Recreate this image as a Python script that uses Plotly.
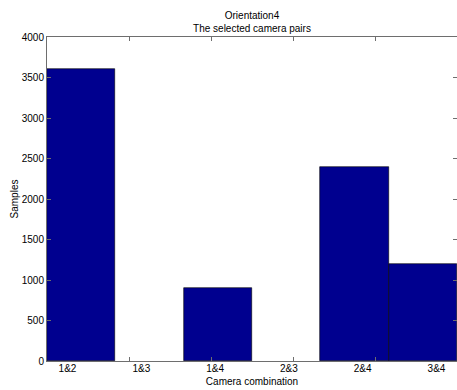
import numpy as np
import plotly.graph_objects as go

# Sample counts per camera pair
categories = ["1&2", "1&3", "1&4", "2&3", "2&4", "3&4"]
samples = [3600, 0, 900, 0, 2400, 1200]

# Label positions along the axis (fraction of axis width) and tick marks
label_pos = list(np.linspace(0.05, 0.95, len(categories)))
tick_marks = [0.2, 0.4, 0.6, 0.8]
y_ticks = list(range(0, 4001, 500))

bar_color = "#00008F"
axis_color = "#6e6e6e"
font = dict(family="Liberation Sans, Arial, sans-serif", size=10, color="#000000")

# empty bins get no outline so the baseline stays the axis colour
edge_widths = [0.6 if v > 0 else 0 for v in samples]

fig = go.Figure()
fig.add_trace(go.Bar(
    x=list(range(len(categories))),
    y=samples,
    width=1.0,
    marker=dict(color=bar_color, line=dict(color="#000000", width=edge_widths)),
    xaxis="x",
    yaxis="y",
    showlegend=False,
))
# invisible traces anchoring the helper axes
fig.add_trace(go.Scatter(x=[0, 1], y=[0, 0], mode="markers", marker=dict(opacity=0),
                         xaxis="x2", yaxis="y", showlegend=False, hoverinfo="skip"))
fig.add_trace(go.Scatter(x=[0, 1], y=[0, 0], mode="markers", marker=dict(opacity=0),
                         xaxis="x3", yaxis="y", showlegend=False, hoverinfo="skip"))

fig.update_layout(
    width=457, height=390,
    margin=dict(l=47, r=0, t=37, b=29),
    paper_bgcolor="white",
    plot_bgcolor="white",
    font=font,
    bargap=0,
    title=dict(
        text="Orientation4<br>The selected camera pairs",
        xref="paper", x=0.5, xanchor="center",
        yref="container", y=1 - 18.5 / 390, yanchor="middle",
        font=dict(family=font["family"], size=10, color="#000000"),
    ),
    xaxis=dict(
        range=[-0.5, len(categories) - 0.5],
        showticklabels=False, ticks="", showgrid=False, zeroline=False,
        showline=True, linecolor=axis_color, linewidth=1, mirror=True,
        fixedrange=True,
    ),
    xaxis2=dict(
        overlaying="x", range=[0, 1], side="bottom",
        tickvals=tick_marks, ticks="inside", ticklen=4, tickcolor=axis_color,
        showticklabels=False, showgrid=False, zeroline=False, showline=False,
        mirror="ticks",
    ),
    xaxis3=dict(
        overlaying="x", range=[0, 1], side="bottom",
        tickvals=label_pos, ticktext=categories, ticks="",
        showgrid=False, zeroline=False, showline=False,
        tickfont=font,
        title=dict(text="Camera combination", font=font, standoff=4),
    ),
    yaxis=dict(
        range=[0, 4000], tickvals=y_ticks, ticks="inside", ticklen=4,
        tickcolor=axis_color, showgrid=False, zeroline=False,
        showline=True, linecolor=axis_color, linewidth=1, mirror="ticks",
        tickfont=font,
        title=dict(text="Samples", font=font, standoff=1),
    ),
)

fig.write_html("out.html")
